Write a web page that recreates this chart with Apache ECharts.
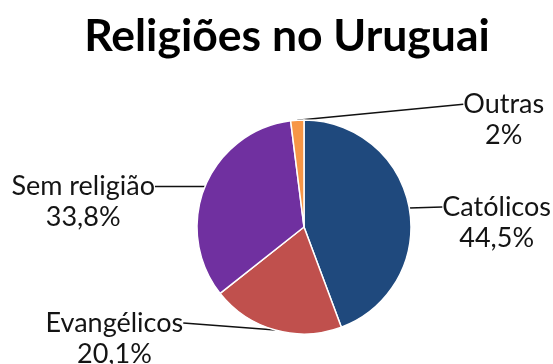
<!DOCTYPE html>
<html>
<head>
<meta charset="utf-8">
<script src="https://cdn.jsdelivr.net/npm/echarts@6/dist/echarts.min.js"></script>
<style>
  html, body { margin: 0; padding: 0; background: #ffffff; }
  #chart { width: 553px; height: 364px; }
</style>
</head>
<body>
<div id="chart"></div>
<script>
// Religious affiliation in Uruguay (percent of population)
const categories = ['Católicos', 'Evangélicos', 'Sem religião', 'Outras'];
const shares = [44.5, 20.1, 33.8, 2];

const sliceColors = ['#1F497D', '#C0504D', '#7030A0', '#F79646'];
// Offset of each label anchor from the point where its leader leaves the slice
const leaderOffsets = [[33, -1], [-92, -7], [-50, 0], [166, -16]];
const labelAlign = ['left', 'right', 'right', 'left'];
const labelFont = 'Lato';
const labelSize = 27;
const labelLineHeight = 31;

const chart = echarts.init(document.getElementById('chart'), null, { renderer: 'canvas' });

chart.setOption({
  animation: false,
  graphic: [{
    type: 'text',
    x: 287,
    y: 37,
    style: {
      text: 'Religiões no Uruguai',
      textAlign: 'center',
      textVerticalAlign: 'middle',
      fontFamily: labelFont,
      fontWeight: 'bold',
      fontSize: 44.5,
      fill: '#000000'
    }
  }],
  series: [{
    type: 'pie',
    center: [304, 227],
    radius: 107,
    startAngle: 90,
    clockwise: true,
    avoidLabelOverlap: false,
    data: categories.map((name, i) => ({ name: name, value: shares[i] })),
    itemStyle: {
      borderColor: '#ffffff',
      borderWidth: 1.5,
      color: p => sliceColors[p.dataIndex]
    },
    label: {
      show: true,
      position: 'outside',
      color: '#141414',
      fontFamily: labelFont,
      fontSize: labelSize,
      lineHeight: labelLineHeight,
      formatter: p => '{n|' + p.name + '}\n{v|' + String(p.value).replace('.', ',') + '%}',
      rich: {
        n: { align: 'center', fontFamily: labelFont, fontSize: labelSize, lineHeight: labelLineHeight, color: '#141414' },
        v: { align: 'center', fontFamily: labelFont, fontSize: labelSize, lineHeight: labelLineHeight, color: '#141414' }
      }
    },
    labelLine: {
      show: true,
      length: 10,
      length2: 10,
      lineStyle: { color: '#111111', width: 1.5 }
    },
    // Straight leader from the slice edge to the first label line
    labelLayout: function (params) {
      const start = params.labelLinePoints[0];
      const off = leaderOffsets[params.dataIndex];
      const end = [start[0] + off[0], start[1] + off[1]];
      return {
        x: end[0],
        y: end[1] - labelLineHeight / 2,
        align: labelAlign[params.dataIndex],
        verticalAlign: 'top',
        labelLinePoints: [start, end]
      };
    }
  }]
});
</script>
</body>
</html>
